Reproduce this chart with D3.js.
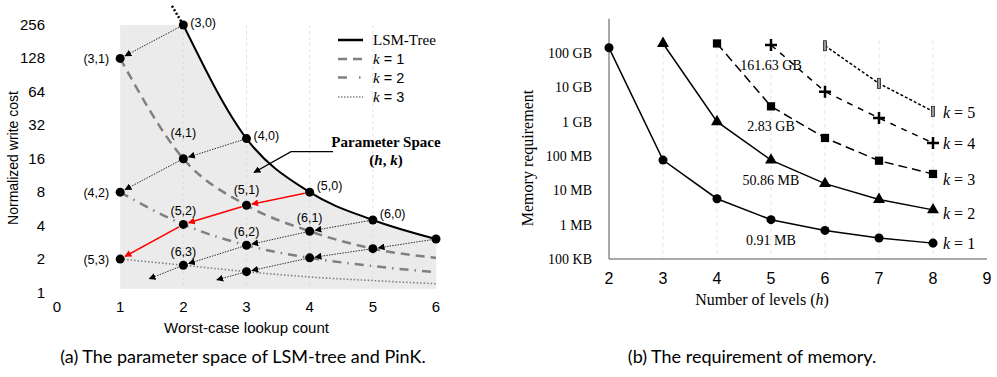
<!DOCTYPE html>
<html>
<head>
<meta charset="utf-8">
<script src="https://cdn.jsdelivr.net/npm/d3@7"></script>
<style>
  body { margin: 0; background: #fff; }
  svg { display: block; }
</style>
</head>
<body>
<div id="chart"></div>
<script>
// ---- (a) parameter space data ----
const lookupTicks = [0, 1, 2, 3, 4, 5, 6];
const writeTicks = [1, 2, 4, 8, 16, 32, 64, 128, 256];

// LSM-tree curve (lookup count, write cost)
const lsmCurve = [[2, 256], [3, 24.3], [4, 8], [5, 4.5], [6, 3.03]];
const lsmExtension = [[1.82, 380], [2, 256]];
const k1Curve = [[1, 128], [2, 16], [3, 6.1], [4, 3.56], [5, 2.48], [6, 2.05]];
const k2Curve = [[1, 8], [2, 4.1], [3, 2.66], [4, 2.05], [5, 1.73], [6, 1.52]];
const k3Curve = [[1, 2], [2, 1.76], [3, 1.54], [4, 1.38], [5, 1.28], [6, 1.2]];

// configurations: h, k, lookup count, write cost
const paramPoints = [
    [3, 0, 2, 256], [3, 1, 1, 128],
    [4, 0, 3, 24.3], [4, 1, 2, 16], [4, 2, 1, 8],
    [5, 0, 4, 8], [5, 1, 3, 6.1], [5, 2, 2, 4.1], [5, 3, 1, 2],
    [6, 0, 5, 4.5], [6, 1, 4, 3.56], [6, 2, 3, 2.66], [6, 3, 2, 1.76],
    [7, 0, 6, 3.03], [7, 1, 5, 2.48], [7, 2, 4, 2.05], [7, 3, 3, 1.54]
];
// arrows leaving the last point toward unseen configs
const openArrows = [[6, 3, 1.46, 1.33], [7, 3, 2.53, 1.3]];
const highlightH = 5;
const shadeBottom = 1.08;

// ---- (b) memory requirement data ----
const levelTicks = [2, 3, 4, 5, 6, 7, 8, 9];
const memTicks = [1e5, 1e6, 1e7, 1e8, 1e9, 1e10, 1e11];
const memTickLabels = ["100 KB", "1 MB", "10 MB", "100 MB", "1 GB", "10 GB", "100 GB"];
const memK1 = [[2, 142e9], [3, 76e6], [4, 5.7e6], [5, 1.4e6], [6, 0.68e6], [7, 0.41e6], [8, 0.29e6]];
const memK2 = [[3, 190e9], [4, 1e9], [5, 76e6], [6, 15.7e6], [7, 5.4e6], [8, 2.7e6]];
const memK3 = [[4, 190e9], [5, 2.8e9], [6, 335e6], [7, 73e6], [8, 30e6]];
const memK4 = [[5, 171e9], [6, 7.5e9], [7, 1.28e9], [8, 239e6]];
const memK5 = [[6, 163e9], [7, 13e9], [8, 2e9]];
const memNotes = ["0.91 MB", "50.86 MB", "2.83 GB", "161.63 GB"];

const svg = d3.select("#chart").append("svg")
    .attr("width", 997)
    .attr("height", 377);

const defs = svg.append("defs");
function addMarker(id, color) {
    defs.append("marker")
        .attr("id", id)
        .attr("viewBox", "0 0 10 10")
        .attr("refX", 9).attr("refY", 5)
        .attr("markerWidth", 7).attr("markerHeight", 7)
        .attr("markerUnits", "userSpaceOnUse")
        .attr("orient", "auto")
        .append("path")
        .attr("d", "M0,0 L10,5 L0,10 z")
        .attr("fill", color);
}
addMarker("arrBlack", "#000");
addMarker("arrRed", "#f00");

const sans = "'Liberation Sans', Arial, sans-serif";
const serif = "'Liberation Serif', 'Times New Roman', serif";

/* ---------- chart (a) ---------- */
let xL = d3.scaleLinear().domain([0, 6]).range([57, 436]);
let yL = d3.scaleLog().base(2).domain([1, 256]).range([292.5, 25]);

let gA = svg.append("g");

// shaded parameter space
gA.append("rect")
    .attr("x", xL(1)).attr("y", yL(256))
    .attr("width", xL(2) - xL(1))
    .attr("height", yL(shadeBottom) - yL(256))
    .attr("fill", "#ebebeb");
gA.append("path")
    .datum(lsmCurve)
    .attr("d", d3.area()
        .x(d => xL(d[0]))
        .y0(yL(shadeBottom))
        .y1(d => yL(d[1]))
        .curve(d3.curveMonotoneX))
    .attr("fill", "#ebebeb")
    .attr("stroke", "#ebebeb")
    .attr("stroke-width", 0.5);

// faint grid
gA.selectAll(".gridA")
    .data([2, 3, 4, 5])
    .enter().append("line")
    .attr("x1", d => xL(d)).attr("x2", d => xL(d))
    .attr("y1", yL(256)).attr("y2", yL(shadeBottom))
    .attr("stroke", "#d8d8d8")
    .attr("stroke-width", 0.8)
    .attr("stroke-dasharray", "3,3");

// tick labels
gA.selectAll(".ytA")
    .data(writeTicks)
    .enter().append("text")
    .attr("x", 45)
    .attr("y", d => yL(d) + 5)
    .attr("text-anchor", "end")
    .style("font-family", sans).style("font-size", "15px")
    .text(d => d);
gA.selectAll(".xtA")
    .data(lookupTicks)
    .enter().append("text")
    .attr("x", d => xL(d))
    .attr("y", 312)
    .attr("text-anchor", "middle")
    .style("font-family", sans).style("font-size", "15px")
    .text(d => d);

gA.append("text")
    .attr("x", xL(3))
    .attr("y", 333)
    .attr("text-anchor", "middle")
    .style("font-family", sans).style("font-size", "15px")
    .text("Worst-case lookup count");
gA.append("text")
    .attr("transform", "translate(18,158) rotate(-90)")
    .attr("text-anchor", "middle")
    .style("font-family", sans).style("font-size", "14px")
    .text("Normalized write cost");

// k curves
let lineL = d3.line()
    .x(d => xL(d[0]))
    .y(d => yL(d[1]))
    .curve(d3.curveMonotoneX);

const kStyles = [
    {data: k1Curve, dash: "9,6", width: 2.5},
    {data: k2Curve, dash: "9,6,1.5,6", width: 2.5},
    {data: k3Curve, dash: "1.5,2", width: 1.6}
];
kStyles.forEach(s => {
    gA.append("path")
        .datum(s.data)
        .attr("d", lineL)
        .attr("fill", "none")
        .attr("stroke", "#808080")
        .attr("stroke-width", s.width)
        .attr("stroke-dasharray", s.dash);
});

// LSM-tree curve
gA.append("path")
    .datum(lsmCurve)
    .attr("d", lineL)
    .attr("fill", "none")
    .attr("stroke", "#000")
    .attr("stroke-width", 2);
gA.append("path")
    .datum(lsmExtension)
    .attr("d", d3.line().x(d => xL(d[0])).y(d => yL(d[1])))
    .attr("fill", "none")
    .attr("stroke", "#000")
    .attr("stroke-width", 2.5)
    .attr("stroke-dasharray", "2,2");

// arrows between configurations
function arrow(x1, y1, x2, y2, red, endGap) {
    let dx = x2 - x1, dy = y2 - y1;
    let len = Math.sqrt(dx * dx + dy * dy);
    let ux = dx / len, uy = dy / len;
    gA.append("line")
        .attr("x1", x1 + ux * 5).attr("y1", y1 + uy * 5)
        .attr("x2", x2 - ux * endGap).attr("y2", y2 - uy * endGap)
        .attr("stroke", red ? "#f00" : "#000")
        .attr("stroke-width", red ? 1.6 : 0.8)
        .attr("stroke-dasharray", red ? null : "1.5,1.2")
        .attr("marker-end", red ? "url(#arrRed)" : "url(#arrBlack)");
}
paramPoints.forEach(p => {
    let next = paramPoints.find(q => q[0] === p[0] && q[1] === p[1] + 1);
    if (next) {
        arrow(xL(p[2]), yL(p[3]), xL(next[2]), yL(next[3]), p[0] === highlightH, 5.5);
    }
});
openArrows.forEach(a => {
    let p = paramPoints.find(q => q[0] === a[0] && q[1] === a[1]);
    arrow(xL(p[2]), yL(p[3]), xL(a[2]), yL(a[3]), false, 0);
});

// dots
gA.selectAll(".dotA")
    .data(paramPoints)
    .enter().append("circle")
    .attr("cx", d => xL(d[2]))
    .attr("cy", d => yL(d[3]))
    .attr("r", 4.5)
    .attr("fill", "#000");

// point labels
const liftAbove = {"4,1": 26, "5,1": 15.5};
gA.selectAll(".lblA")
    .data(paramPoints.filter(d => d[0] <= 6))
    .enter().append("text")
    .attr("x", d => d[1] === 0 ? xL(d[2]) + 7 : (d[2] === 1 ? xL(d[2]) - 11 : xL(d[2])))
    .attr("y", d => {
        if (d[1] === 0) return yL(d[3]) + 1.5 - (d[0] >= 5 ? 3.5 : 0);
        if (d[2] === 1) return yL(d[3]) + 4.5;
        return yL(d[3]) + 4.5 - (liftAbove[d[0] + "," + d[1]] || 14);
    })
    .attr("text-anchor", d => d[1] === 0 ? "start" : (d[2] === 1 ? "end" : "middle"))
    .style("font-family", sans).style("font-size", "12.5px")
    .text(d => "(" + d[0] + "," + d[1] + ")");

// legend
const legendA = [
    {label: "LSM-Tree", k: null, color: "#000", dash: null, width: 2.5},
    {label: "1", k: true, color: "#808080", dash: "9,6", width: 2.5},
    {label: "2", k: true, color: "#808080", dash: "9,12,1.5,6", width: 2.5},
    {label: "3", k: true, color: "#808080", dash: "1.5,1.5", width: 1.3}
];
const legendY = [40, 59, 77.5, 97];
legendA.forEach((d, i) => {
    gA.append("line")
        .attr("x1", 338).attr("x2", 363)
        .attr("y1", legendY[i]).attr("y2", legendY[i])
        .attr("stroke", d.color)
        .attr("stroke-width", d.width)
        .attr("stroke-dasharray", d.dash);
    let t = gA.append("text")
        .attr("x", 373).attr("y", legendY[i] + 5);
    if (d.k) {
        t.append("tspan").style("font-family", serif).style("font-style", "italic")
            .style("font-size", "15px").text("k");
        t.append("tspan").style("font-family", sans).style("font-size", "14.5px")
            .text(" = " + d.label);
    } else {
        t.style("font-family", serif).style("font-size", "15px").text(d.label);
    }
});

// "Parameter Space" annotation
let ann = gA.append("text")
    .attr("x", 386).attr("y", 147)
    .attr("text-anchor", "middle")
    .style("font-family", serif).style("font-weight", "bold").style("font-size", "15px")
    .text("Parameter Space");
let ann2 = gA.append("text")
    .attr("x", 386).attr("y", 165)
    .attr("text-anchor", "middle")
    .style("font-family", serif).style("font-weight", "bold").style("font-size", "15px");
ann2.append("tspan").text("(");
ann2.append("tspan").style("font-style", "italic").text("h");
ann2.append("tspan").text(", ");
ann2.append("tspan").style("font-style", "italic").text("k");
ann2.append("tspan").text(")");
gA.append("polyline")
    .attr("points", "333,151.7 291,151.7 254,172.5")
    .attr("fill", "none")
    .attr("stroke", "#000")
    .attr("stroke-width", 1.3)
    .attr("marker-end", "url(#arrBlack)");

/* ---------- chart (b) ---------- */
let xR = d3.scaleLinear().domain([2, 9]).range([609, 987]);
let yR = d3.scaleLog().domain([1e5, 1e12]).range([259, 18.7]);

let gB = svg.append("g");

gB.selectAll(".gridB")
    .data([3, 4, 5, 6, 7, 8])
    .enter().append("line")
    .attr("x1", d => xR(d)).attr("x2", d => xR(d))
    .attr("y1", 40).attr("y2", 259)
    .attr("stroke", "#e6e6e6")
    .attr("stroke-width", 1)
    .attr("stroke-dasharray", "4,3");

gB.append("line")
    .attr("x1", xR(2)).attr("x2", xR(2))
    .attr("y1", yR(1e12)).attr("y2", yR(1e5))
    .attr("stroke", "#8c8c8c").attr("stroke-width", 1.5);
gB.append("line")
    .attr("x1", xR(2)).attr("x2", xR(9))
    .attr("y1", yR(1e5)).attr("y2", yR(1e5))
    .attr("stroke", "#8c8c8c").attr("stroke-width", 1.5);

gB.selectAll(".ytB")
    .data(memTicks)
    .enter().append("text")
    .attr("x", 592)
    .attr("y", d => yR(d) + 5)
    .attr("text-anchor", "end")
    .style("font-family", serif).style("font-size", "14px")
    .text((d, i) => memTickLabels[i]);
gB.selectAll(".xtB")
    .data(levelTicks)
    .enter().append("text")
    .attr("x", d => xR(d))
    .attr("y", 284)
    .attr("text-anchor", "middle")
    .style("font-family", sans).style("font-size", "16px")
    .text(d => d);

let xt = gB.append("text")
    .attr("x", 762).attr("y", 305)
    .attr("text-anchor", "middle")
    .style("font-family", serif).style("font-size", "16px");
xt.append("tspan").text("Number of levels (");
xt.append("tspan").style("font-style", "italic").text("h");
xt.append("tspan").text(")");
gB.append("text")
    .attr("transform", "translate(533,158) rotate(-90)")
    .attr("text-anchor", "middle")
    .style("font-family", serif).style("font-size", "16px")
    .text("Memory requirement");

let lineR = d3.line().x(d => xR(d[0])).y(d => yR(d[1]));
const memSeries = [
    {k: 1, data: memK1, dash: null, marker: "circle"},
    {k: 2, data: memK2, dash: null, marker: "triangle"},
    {k: 3, data: memK3, dash: "9,5", marker: "square"},
    {k: 4, data: memK4, dash: "6,6", marker: "plus"},
    {k: 5, data: memK5, dash: "3,2", marker: "bar"}
];
const kLabelShift = [0, 3, 5, 0, 1];

memSeries.forEach((s, i) => {
    gB.append("path")
        .datum(s.data)
        .attr("d", lineR)
        .attr("fill", "none")
        .attr("stroke", "#000")
        .attr("stroke-width", 1.5)
        .attr("stroke-dasharray", s.dash);

    let m = gB.selectAll(".m" + s.k)
        .data(s.data)
        .enter().append("g")
        .attr("transform", d => `translate(${xR(d[0])},${yR(d[1])})`);
    if (s.marker === "circle") {
        m.append("path").attr("d", d3.symbol(d3.symbolCircle, 64)).attr("fill", "#000");
    } else if (s.marker === "triangle") {
        m.append("path").attr("d", d3.symbol(d3.symbolTriangle, 62)).attr("fill", "#000");
    } else if (s.marker === "square") {
        m.append("path").attr("d", d3.symbol(d3.symbolSquare, 68)).attr("fill", "#000");
    } else if (s.marker === "plus") {
        m.append("path").attr("d", "M-6,0 H6 M0,-6 V6")
            .attr("stroke", "#000").attr("stroke-width", 2.5);
    } else {
        m.append("rect").attr("x", -1.5).attr("y", -5).attr("width", 3).attr("height", 10)
            .attr("fill", "#999").attr("stroke", "#222").attr("stroke-width", 0.8);
    }

    let last = s.data[s.data.length - 1];
    let t = gB.append("text")
        .attr("x", xR(last[0]) + 10)
        .attr("y", yR(last[1]) + 6 + kLabelShift[i])
        .style("font-family", serif).style("font-size", "16px");
    t.append("tspan").style("font-style", "italic").text("k");
    t.append("tspan").text(" = " + s.k);

    // value note below the h = 5 point
    if (i < memNotes.length) {
        let p5 = s.data.find(d => d[0] === 5);
        gB.append("text")
            .attr("x", xR(5))
            .attr("y", yR(p5[1]) + 25)
            .attr("text-anchor", "middle")
            .style("font-family", serif).style("font-size", "14px")
            .text(memNotes[i]);
    }
});

/* ---------- captions ---------- */
svg.append("text")
    .attr("x", 243).attr("y", 363)
    .attr("text-anchor", "middle")
    .style("font-family", "Lato, sans-serif").style("font-size", "18px")
    .text("(a) The parameter space of LSM-tree and PinK.");
svg.append("text")
    .attr("x", 752).attr("y", 363)
    .attr("text-anchor", "middle")
    .style("font-family", "Lato, sans-serif").style("font-size", "18px")
    .text("(b) The requirement of memory.");
</script>
</body>
</html>
